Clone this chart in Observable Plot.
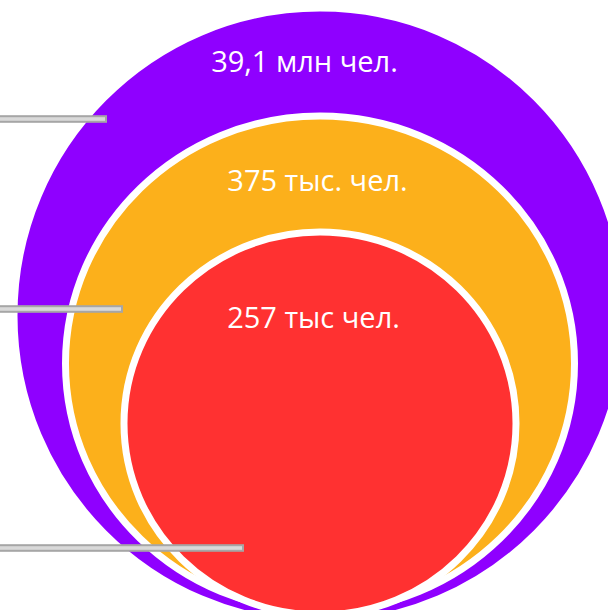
<!DOCTYPE html>
<html>
<head>
<meta charset="utf-8">
<script src="https://cdn.jsdelivr.net/npm/d3@7"></script>
<script src="https://cdn.jsdelivr.net/npm/@observablehq/plot@0.6"></script>
<style>
html, body { margin: 0; padding: 0; background: #fff; overflow: hidden; }
#chart svg { display: block; }
</style>
</head>
<body>
<div id="chart"></div>
<script>
// Data
const labels = ["39,1 млн чел.", "375 тыс. чел.", "257 тыс чел."];
const values = [39100000, 375000, 257000];

// Styles
const palette = ["#8f00ff", "#fcb01b", "#ff3131"];

const rows = labels.map((label, i) => ({label, value: values[i]}));
const dom = [...values].sort((a, b) => a - b); // 257k, 375k, 39.1M

// Layout scales (value -> pixel), piecewise-linear over the three values
const rS = Plot.scale({r: {type: "linear", domain: dom, range: [196, 254.5, 306]}});
const cyS = Plot.scale({y: {type: "linear", domain: dom, range: [423, 363, 315]}});
const labelX = Plot.scale({x: {type: "linear", domain: dom, range: [313, 317, 304]}});
const labelY = Plot.scale({y: {type: "linear", domain: dom, range: [327, 190, 71]}});
const leadX = Plot.scale({x: {type: "linear", domain: dom, range: [243, 122, 106]}});
const leadY = Plot.scale({y: {type: "linear", domain: dom, range: [548, 309, 119]}});

// Ellipse symbol (vertical/horizontal ratio k)
const ellipse = k => ({
  draw(ctx, size) {
    const rx = Math.sqrt(size / Math.PI), ry = rx * k, c = 0.5522847498;
    ctx.moveTo(rx, 0);
    ctx.bezierCurveTo(rx, ry * c, rx * c, ry, 0, ry);
    ctx.bezierCurveTo(-rx * c, ry, -rx, ry * c, -rx, 0);
    ctx.bezierCurveTo(-rx, -ry * c, -rx * c, -ry, 0, -ry);
    ctx.bezierCurveTo(rx * c, -ry, rx, -ry * c, rx, 0);
    ctx.closePath();
  }
});

const W = 608, H = 610, CX = 319.5;

const chart = Plot.plot({
  width: W,
  height: H,
  margin: 0,
  style: {background: "#fff", overflow: "hidden"},
  x: {type: "identity", axis: null},
  y: {type: "identity", axis: null},
  r: {type: "identity"},
  color: {domain: labels, range: palette},
  symbol: {domain: labels, range: [ellipse(1.0049), ellipse(0.9725), ellipse(0.977)]},
  marks: [
    Plot.dot(rows, {
      x: CX,
      y: d => cyS.apply(d.value),
      r: d => rS.apply(d.value),
      symbol: "label",
      fill: "label",
      stroke: "white",
      strokeWidth: 7
    }),
    Plot.text(rows, {
      x: d => labelX.apply(d.value),
      y: d => labelY.apply(d.value),
      text: "label",
      fill: "white",
      fontSize: 29,
      fontFamily: "Open Sans",
      textAnchor: "middle",
      lineAnchor: "bottom"
    }),
    Plot.rect(rows, {
      x1: -5,
      x2: d => leadX.apply(d.value),
      y1: d => leadY.apply(d.value) - 2.8,
      y2: d => leadY.apply(d.value) + 2.8,
      fill: "#d9d9d9",
      stroke: "#a6a6a6",
      strokeWidth: 2
    })
  ]
});
document.getElementById("chart").appendChild(chart);
</script>
</body>
</html>
